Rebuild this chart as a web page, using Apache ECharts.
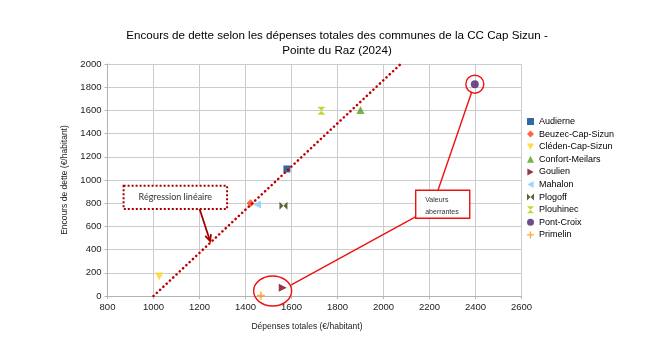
<!DOCTYPE html>
<html><head><meta charset="utf-8">
<script src="https://cdn.jsdelivr.net/npm/echarts@6/dist/echarts.min.js"></script>
<style>html,body{margin:0;padding:0;background:#fff}#c{width:664px;height:345px}</style>
</head><body><div id="c"></div>
<script>
const communes = ['Audierne','Beuzec-Cap-Sizun','Cléden-Cap-Sizun','Confort-Meilars','Goulien','Mahalon','Plogoff','Plouhinec','Pont-Croix','Primelin'];
const depenses = [1580, 1422, 1025, 1900, 1562, 1450, 1565, 1730, 2397, 1467];
const dette    = [1095, 800, 168, 1603, 72, 788, 778, 1598, 1826, 3];
const colors   = ['#004586','#ff420e','#ffd320','#579d1c','#7e0021','#83caff','#314004','#aecf00','#4b1f6f','#ff950e'];
const symbols  = ['rect','diamond','path://M0,0L10,0L5,9Z','triangle','path://M0,0L9,5L0,10Z','path://M9,0L0,5L9,10Z',
  'path://M0,0L5,5L0,10ZM10,0L5,5L10,10Z','path://M0,0L10,0L5,5ZM0,10L10,10L5,5Z','circle',
  'path://M4,0L6,0L6,4L10,4L10,6L6,6L6,10L4,10L4,6L0,6L0,4L4,4Z'];
const regX = [1000, 2075];
const regY = [0, 2000];
const xTicks = [800,1000,1200,1400,1600,1800,2000,2200,2400,2600];
const yTicks = [0,200,400,600,800,1000,1200,1400,1600,1800,2000];

const chart = echarts.init(document.getElementById('c'), null, {renderer:'canvas'});
const series = communes.map((n,i)=>({
  name:n, type:'scatter', data:[[depenses[i], dette[i]]],
  symbol:symbols[i], symbolSize: (i===0?7:8), itemStyle:{color:colors[i]}, z:3
}));
series.unshift({
  name:'reg', type:'line', data: regX.map((x,i)=>[x,regY[i]]), symbol:'none', silent:true,
  lineStyle:{color:'#c00000', width:2.6, type:[0.1,4.4], cap:'round'}, z:4
});
const ff = '"Liberation Sans", Arial, sans-serif';
const fmt = v => String(v);
chart.setOption({
  animation:false,
  title:{text:'Encours de dette selon les dépenses totales des communes de la CC Cap Sizun -\nPointe du Raz (2024)',
    left:332, top:24, textAlign:'center',
    textStyle:{fontFamily:ff, fontSize:11.6, fontWeight:'normal', color:'#000', lineHeight:14.5}},
  legend:{data:communes, orient:'vertical', left:522, top:112, itemWidth:7, itemHeight:7, itemGap:3.6,
    textStyle:{fontFamily:ff, fontSize:9, color:'#000'}},
  grid:{left:107.5, right:142.5, top:64, bottom:49},
  xAxis:{type:'value', min:800, max:2600, interval:200,
    name:'Dépenses totales (€/habitant)', nameLocation:'middle', nameGap:26,
    nameTextStyle:{fontFamily:ff, fontSize:8.5, color:'#222', padding:[0,15,0,0]},
    axisLine:{show:true, lineStyle:{color:'#b3b3b3'}}, axisTick:{show:true, length:3, lineStyle:{color:'#b3b3b3'}},
    axisLabel:{fontFamily:ff, fontSize:9.5, color:'#222', margin:6, formatter:fmt},
    splitLine:{lineStyle:{color:'#cccccc'}}},
  yAxis:{type:'value', min:0, max:2000, interval:200,
    name:'Encours de dette (€/habitant)', nameLocation:'middle', nameGap:37,
    nameTextStyle:{fontFamily:ff, fontSize:8.5, color:'#222'},
    axisLine:{show:true, lineStyle:{color:'#b3b3b3'}}, axisTick:{show:true, length:3, lineStyle:{color:'#b3b3b3'}},
    axisLabel:{fontFamily:ff, fontSize:9.5, color:'#222', margin:6, formatter:fmt},
    splitLine:{lineStyle:{color:'#cccccc'}}},
  series: series
});

const P = (x,y)=>chart.convertToPixel({gridIndex:0},[x,y]);
const red = '#ee1111';
const dred = '#a50000';
const b1a = P(870,950), b1b = P(1320,750);
const arT = P(1199,759), arH = P(1246,474);
const b2a = P(2140,911), b2b = P(2375,670);
const l1a = P(2237,911), l1b = P(2384,1761);
const l2a = P(2141,684), l2b = P(1599,95);
const pc = P(depenses[8], dette[8]);
const el = P(1518,43);
const ang = Math.atan2(arH[1]-arT[1], arH[0]-arT[0]);
const ah = 7;
const g = [
  {type:'line', shape:{x1:l1a[0],y1:l1a[1],x2:l1b[0],y2:l1b[1]}, style:{stroke:red, lineWidth:1.4}, z:10},
  {type:'line', shape:{x1:l2a[0],y1:l2a[1],x2:l2b[0],y2:l2b[1]}, style:{stroke:red, lineWidth:1.4}, z:10},
  {type:'circle', shape:{cx:pc[0], cy:pc[1], r:9}, style:{stroke:red, fill:null, lineWidth:1.4}, z:10},
  {type:'ellipse', shape:{cx:el[0], cy:el[1], rx:19, ry:15}, style:{stroke:red, fill:null, lineWidth:1.4}, z:10},
  {type:'rect', shape:{x:b2a[0], y:b2a[1], width:b2b[0]-b2a[0], height:b2b[1]-b2a[1]}, style:{stroke:red, fill:'#fff', lineWidth:1.4}, z:11},
  {type:'text', x:b2a[0]+9.5, y:b2a[1]+4, style:{text:'Valeurs\naberrantes', fontFamily:ff, fontSize:7, fill:'#333', lineHeight:11.5}, z:12},
  {type:'rect', shape:{x:b1a[0], y:b1a[1], width:b1b[0]-b1a[0], height:b1b[1]-b1a[1]}, style:{stroke:dred, fill:'#fff', lineWidth:2, lineDash:[2,2]}, z:11},
  {type:'text', x:(b1a[0]+b1b[0])/2, y:(b1a[1]+b1b[1])/2, style:{text:'Régression linéaire', fontFamily:'Lato, "Noto Sans", sans-serif', fontSize:9, fill:'#333', align:'center', verticalAlign:'middle'}, z:12},
  {type:'line', shape:{x1:arT[0],y1:arT[1],x2:arH[0],y2:arH[1]}, style:{stroke:dred, lineWidth:1.8}, z:10},
  {type:'polyline', shape:{points:[
    [arH[0]-ah*Math.cos(ang-0.45), arH[1]-ah*Math.sin(ang-0.45)],
    [arH[0], arH[1]],
    [arH[0]-ah*Math.cos(ang+0.45), arH[1]-ah*Math.sin(ang+0.45)]]}, style:{stroke:dred, lineWidth:1.8, fill:null}, z:10}
];
chart.setOption({graphic:g});
</script></body></html>
